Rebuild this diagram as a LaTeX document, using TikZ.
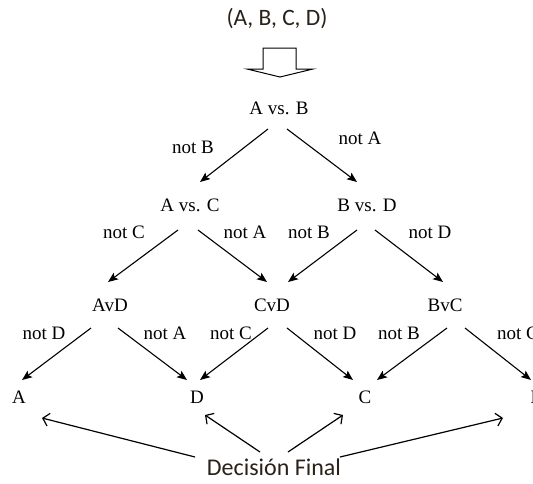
\documentclass[tikz,border=0pt]{standalone}
\usepackage{fontspec}
\setmainfont{Liberation Serif}
\newfontfamily\calib{Carlito}
\usetikzlibrary{arrows.meta,calc}
\definecolor{txt}{HTML}{2A2118}
\tikzset{
  tree/.style={inner sep=0pt, font=\fontsize{19}{21}\selectfont},
  lbl/.style={inner sep=0pt, font=\fontsize{19}{21}\selectfont},
  calt/.style={inner sep=0pt, text=txt, font=\calib\fontsize{23.5}{26}\selectfont},
  tarrow/.style={-{Stealth[length=10pt,width=8pt,inset=2pt]}, line width=1.1pt},
  farrow/.style={-{Straight Barb[length=6pt,width=13pt]}, line width=1.2pt},
  blockarrow/.style={draw=black, fill=white, line width=1pt, line join=miter}
}
\begin{document}
\begin{tikzpicture}[x=1pt,y=-1pt]
\useasboundingbox (0,0) rectangle (533,483);
% top
\node[calt] (top) at (277,19) {(A, B, C, D)};
\draw[blockarrow] (263,48) -- (296,48) -- (296,69) -- (313,69) -- (280,77) -- (247,69) -- (263,69) -- cycle;
% tree nodes
\node[tree] (ab) at (279,108) {A vs. B};
\node[tree] (ac) at (190,205) {A vs. C};
\node[tree] (bd) at (367,205) {B vs. D};
\node[tree] (avd) at (110,305) {AvD};
\node[tree] (cvd) at (272,305) {CvD};
\node[tree] (bvc) at (445,305) {BvC};
\node[tree] (la) at (19,397) {A};
\node[tree] (ld) at (197,397) {D};
\node[tree] (lc) at (365,397) {C};
\node[tree] (lb) at (537,397) {B};
% labels
\node[lbl] (l1) at (193,147) {not B};
\node[lbl] (l2) at (360,138) {not A};
\node[lbl] (l3) at (124,232) {not C};
\node[lbl] (l4) at (245,232) {not A};
\node[lbl] (l5) at (309,232) {not B};
\node[lbl] (l6) at (430,232) {not D};
\node[lbl] (l7) at (44,333) {not D};
\node[lbl] (l8) at (165,333) {not A};
\node[lbl] (l9) at (231,333) {not C};
\node[lbl] (l10) at (335,333) {not D};
\node[lbl] (l11) at (399,333) {not B};
\node[lbl] (l12) at (518,333) {not C};
% tree arrows
\draw[tarrow] ($(ab)+(-11,21)$) -- ($(ac)+(10,-23)$);
\draw[tarrow] ($(ab)+(8,21)$) -- ($(bd)+(-10,-23)$);
\draw[tarrow] ($(ac)+(-12,25)$) -- ($(avd)+(-2,-23)$);
\draw[tarrow] ($(ac)+(8,25)$) -- ($(cvd)+(-5,-23)$);
\draw[tarrow] ($(bd)+(-10,25)$) -- ($(cvd)+(16,-23)$);
\draw[tarrow] ($(bd)+(8,25)$) -- ($(bvc)+(-2,-23)$);
\draw[tarrow] ($(avd)+(-19,23)$) -- ($(la)+(3,-17)$);
\draw[tarrow] ($(avd)+(8,23)$) -- ($(ld)+(-10,-17)$);
\draw[tarrow] ($(cvd)+(-4,23)$) -- ($(ld)+(3,-17)$);
\draw[tarrow] ($(cvd)+(15,23)$) -- ($(lc)+(-12,-17)$);
\draw[tarrow] ($(bvc)+(2,23)$) -- ($(lc)+(12,-17)$);
\draw[tarrow] ($(bvc)+(20,23)$) -- ($(lb)+(-6,-17)$);
% final
\node[calt, font=\calib\fontsize{24}{26}\selectfont] (fin) at (274,467) {Decisión Final};
\draw[farrow] ($(fin)+(-79,-10)$) -- ($(la)+(23,21)$);
\draw[farrow] ($(fin)+(-14,-15)$) -- ($(ld)+(8,18)$);
\draw[farrow] ($(fin)+(14,-15)$) -- ($(lc)+(-22,18)$);
\draw[farrow] ($(fin)+(66,-10)$) -- ($(lb)+(-34,21)$);
\end{tikzpicture}
\end{document}
